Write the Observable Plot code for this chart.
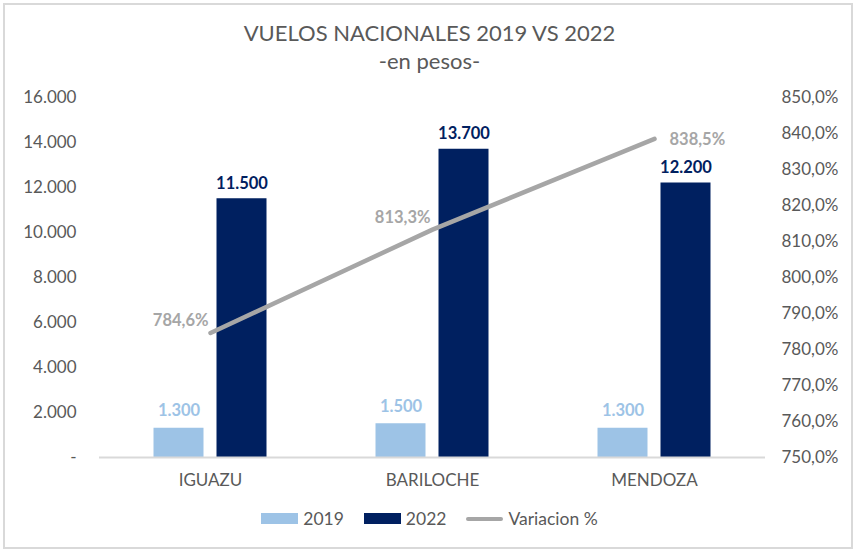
<!DOCTYPE html>
<html>
<head>
<meta charset="utf-8">
<script src="https://cdn.jsdelivr.net/npm/d3@7"></script>
<script src="https://cdn.jsdelivr.net/npm/@observablehq/plot@0.6"></script>
<style>
  body { margin: 0; background: #fff; font-family: Lato, "Open Sans", sans-serif; }
  #wrap { position: relative; width: 859px; height: 553px; overflow: hidden; }
  #frame { position: absolute; left: 3px; top: 3px; width: 846px; height: 542px; border: 2px solid #d9d9d9; box-sizing: content-box; }
  #title { position: absolute; left: 0; width: 859px; top: 20px; text-align: center; font-size: 22px; color: #595959; line-height: 26px; }
  #sub { position: absolute; left: 0; width: 859px; top: 48px; text-align: center; font-size: 22px; color: #595959; line-height: 26px; }
  #chart { position: absolute; left: 0; top: 0; }
  #legend { position: absolute; left: 0; width: 859px; top: 508px; display: flex; justify-content: center; gap: 20px; font-size: 17.5px; color: #595959; }
  .item { display: flex; align-items: center; gap: 5px; }
  .sw { width: 37px; height: 11px; }
  .ln { width: 37px; height: 4px; background: #a6a6a6; border-radius: 2px; }
</style>
</head>
<body>
<div id="wrap">
  <div id="frame"></div>
  <div id="title">VUELOS NACIONALES 2019 VS 2022</div>
  <div id="sub">-en pesos-</div>
  <div id="chart"></div>
  <div id="legend"></div>
</div>
<script>
const categories = ["IGUAZU", "BARILOCHE", "MENDOZA"];
const values2019 = [1300, 1500, 1300];
const values2022 = [11500, 13700, 12200];
const variacion = [784.6, 813.3, 838.5];
const leftTicks = [0, 2000, 4000, 6000, 8000, 10000, 12000, 14000, 16000];
const rightTicks = [750, 760, 770, 780, 790, 800, 810, 820, 830, 840, 850];
const seriesNames = ["2019", "2022", "Variacion %"];

const colors = { c2019: "#9dc3e6", c2022: "#002060", line: "#a6a6a6", text: "#595959" };

const loc = d3.formatLocale({ decimal: ",", thousands: ".", grouping: [3], currency: ["$", ""] });
const fmtNum = loc.format(",.0f");
const fmtPct = loc.format(",.1f");

// right axis maps percent [750,850] onto left domain [0,16000]
const pMin = 750, pMax = 850, yMax = 16000;
const toLeft = p => (p - pMin) / (pMax - pMin) * yMax;

const bars19 = categories.map((c, i) => ({ cat: c, v: values2019[i] }));
const bars22 = categories.map((c, i) => ({ cat: c, v: values2022[i] }));
const linePts = categories.map((c, i) => ({ cat: c, p: variacion[i], y: toLeft(variacion[i]) }));

const off = 31.5, inset = 86;

const chart = Plot.plot({
  width: 859,
  height: 500,
  marginTop: 97,
  marginBottom: 43,
  marginLeft: 99,
  marginRight: 94,
  style: { fontFamily: "Lato, 'Open Sans', sans-serif", color: colors.text, background: "transparent" },
  x: { type: "band", domain: categories, padding: 0, label: null },
  y: { domain: [0, yMax], label: null },
  marks: [
    Plot.axisY(leftTicks, { anchor: "left", tickSize: 0, tickPadding: 23, fontSize: 17, fill: colors.text,
      tickFormat: d => d === 0 ? "-" : fmtNum(d), label: null }),
    Plot.axisY(rightTicks.map(toLeft), { anchor: "right", tickSize: 0, tickPadding: 16, fontSize: 17, fill: colors.text,
      tickFormat: d => fmtPct(pMin + d / yMax * (pMax - pMin)) + "%", label: null }),
    Plot.axisX({ tickSize: 0, tickPadding: 16, fontSize: 17, fill: colors.text, label: null }),
    Plot.barY(bars19, { x: "cat", y: "v", fill: colors.c2019, dx: -off, insetLeft: inset, insetRight: inset }),
    Plot.barY(bars22, { x: "cat", y: "v", fill: colors.c2022, dx: off, insetLeft: inset, insetRight: inset }),
    Plot.ruleY([0], { stroke: "#d9d9d9", strokeWidth: 2 }),
    Plot.line(linePts, { x: "cat", y: "y", stroke: colors.line, strokeWidth: 4.5, strokeLinecap: "round" }),
    Plot.text(bars19, { x: "cat", y: "v", text: d => fmtNum(d.v), dx: -off, dy: -12, lineAnchor: "bottom",
      fill: colors.c2019, fontWeight: "bold", fontSize: 16.5 }),
    Plot.text(bars22, { x: "cat", y: "v", text: d => fmtNum(d.v), dx: off, dy: -10, lineAnchor: "bottom",
      fill: colors.c2022, fontWeight: "bold", fontSize: 16.5 }),
    Plot.text(linePts.slice(0, 2), { x: "cat", y: "y", text: d => fmtPct(d.p) + "%", textAnchor: "end", dx: -2, dy: -12,
      fill: colors.line, fontWeight: "bold", fontSize: 16.5 }),
    Plot.text(linePts.slice(2), { x: "cat", y: "y", text: d => fmtPct(d.p) + "%", textAnchor: "start", dx: 15, dy: 1,
      fill: colors.line, fontWeight: "bold", fontSize: 16.5 })
  ]
});
document.getElementById("chart").appendChild(chart);

const legend = document.getElementById("legend");
const legendColors = [colors.c2019, colors.c2022, null];
seriesNames.forEach((n, i) => {
  const it = document.createElement("div");
  it.className = "item";
  const sw = document.createElement("div");
  if (legendColors[i]) { sw.className = "sw"; sw.style.background = legendColors[i]; }
  else sw.className = "ln";
  const t = document.createElement("span");
  t.textContent = n;
  it.appendChild(sw); it.appendChild(t);
  legend.appendChild(it);
});
</script>
</body>
</html>
